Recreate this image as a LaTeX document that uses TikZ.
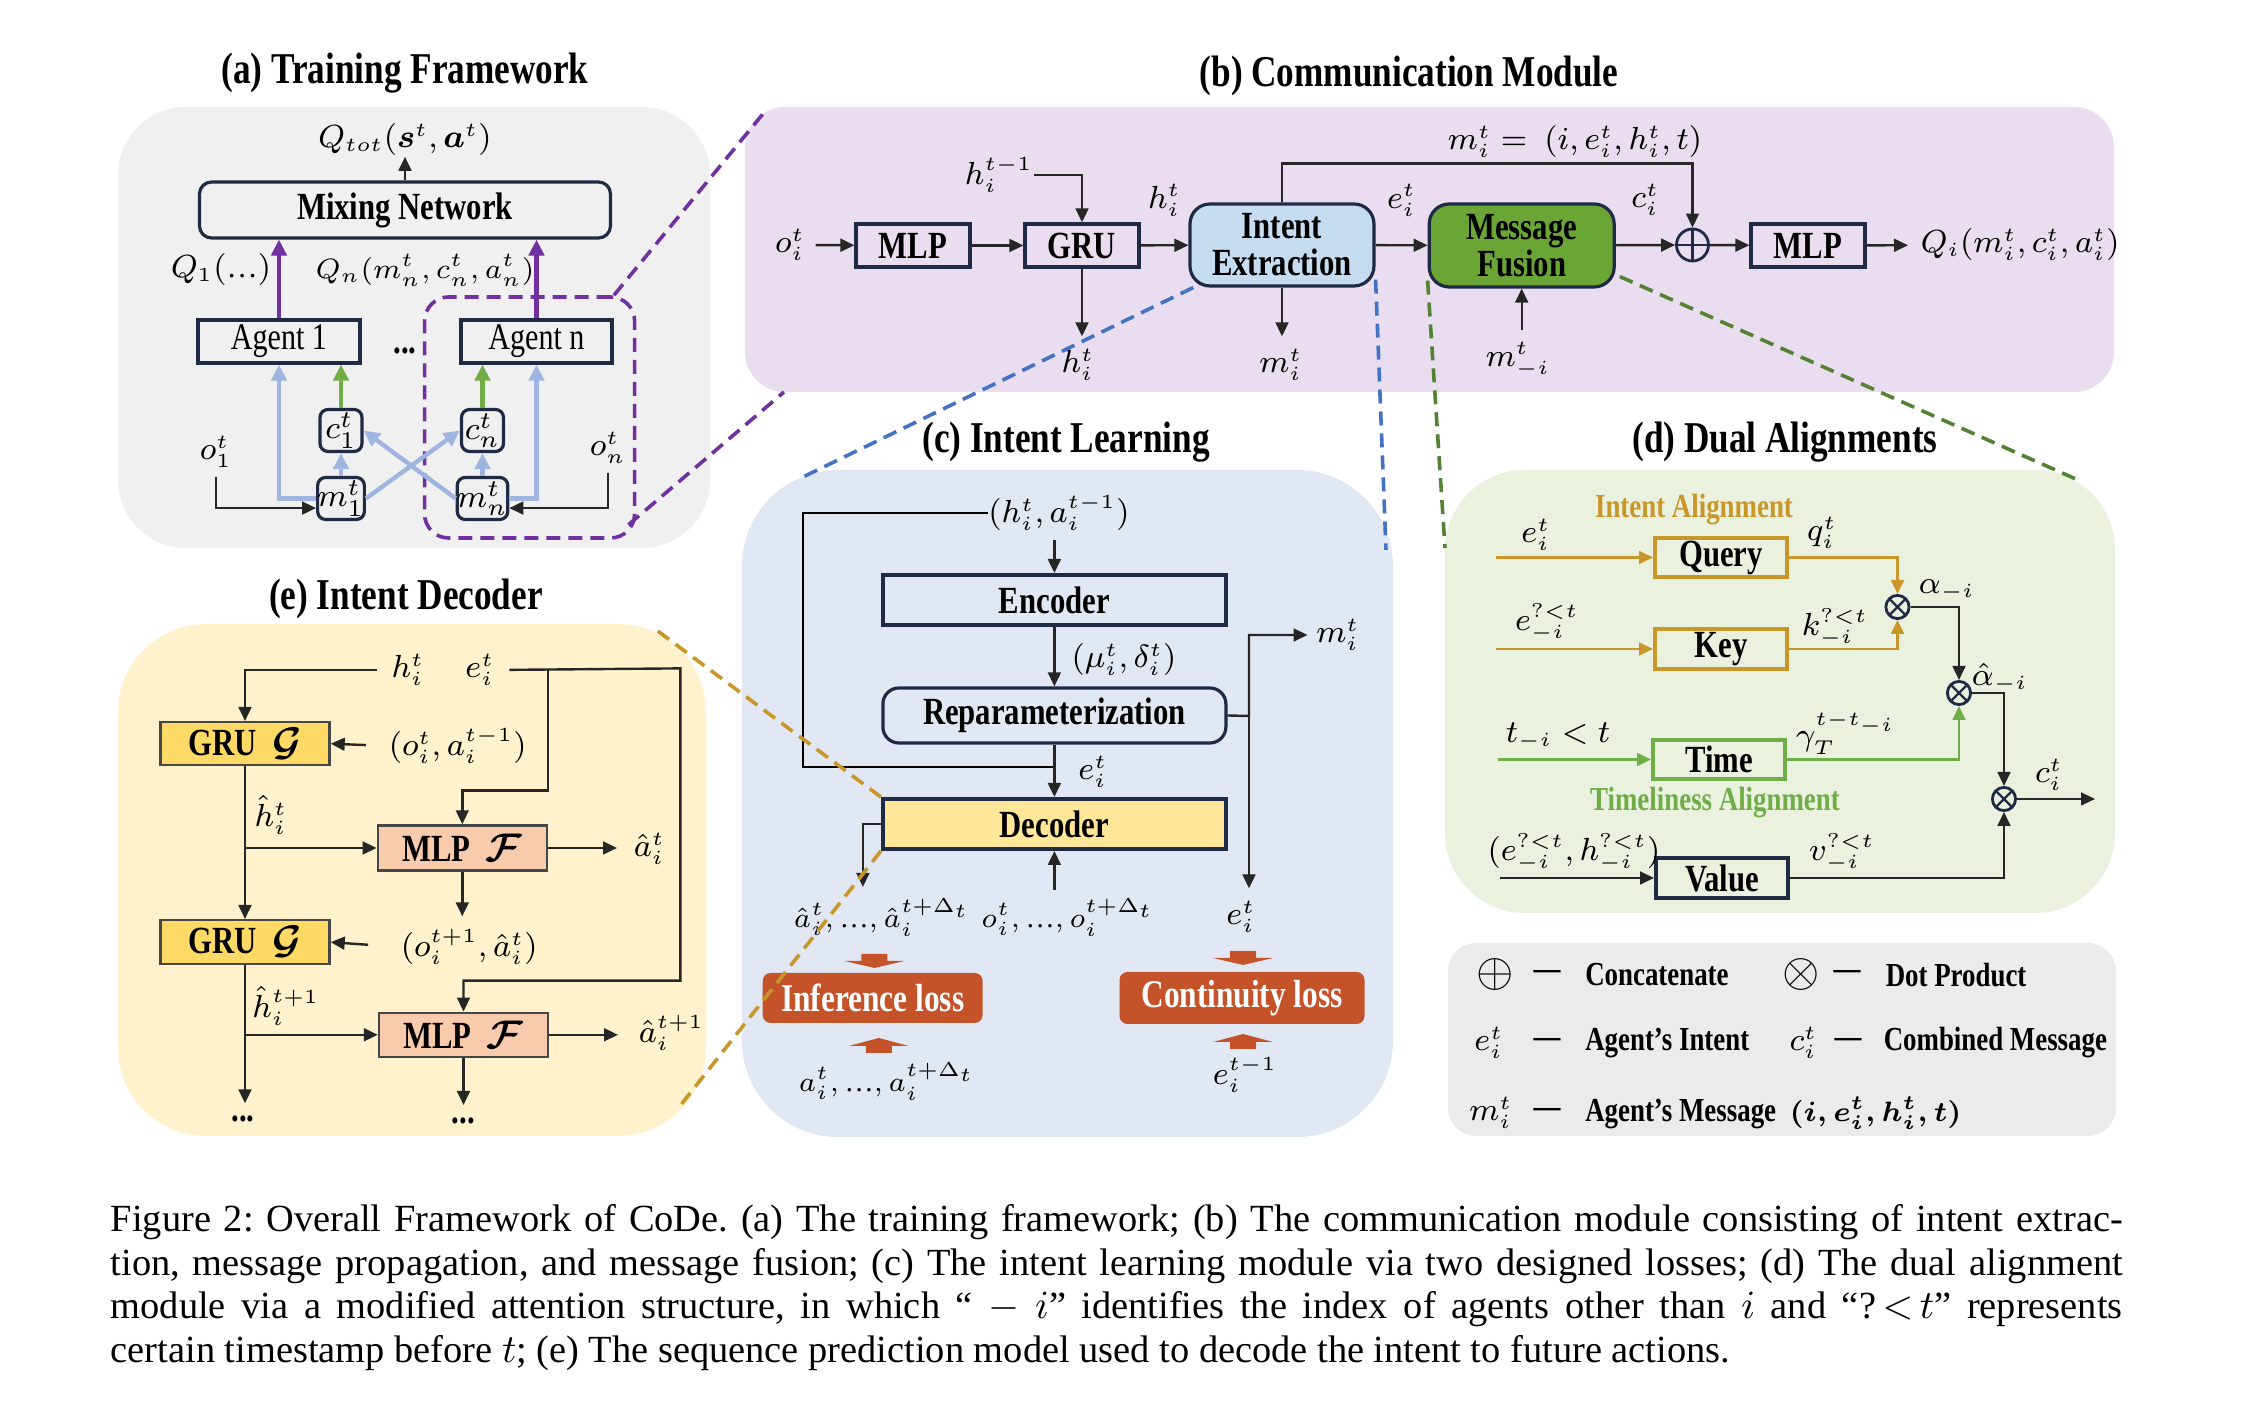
\documentclass[tikz,border=0pt]{standalone}
\usepackage{amsmath,amssymb}
\usepackage{fontspec}
\setmainfont{Liberation Serif}
\newfontfamily\figfont[FakeStretch=0.8,Ligatures=TeX]{Liberation Serif}
\usetikzlibrary{arrows.meta,positioning}
\definecolor{ink}{HTML}{262626}
\definecolor{navy}{HTML}{1F2B45}
\definecolor{panA}{HTML}{F0F0F0}
\definecolor{panB}{HTML}{E9DDEF}
\definecolor{panC}{HTML}{E1E8F4}
\definecolor{panD}{HTML}{EAF1DE}
\definecolor{panE}{HTML}{FFF2CC}
\definecolor{legc}{HTML}{EBEBEB}
\definecolor{intc}{HTML}{C6DDF1}
\definecolor{fusc}{HTML}{6AA536}
\definecolor{decc}{HTML}{FFE699}
\definecolor{gruc}{HTML}{FFD966}
\definecolor{mlpc}{HTML}{F8CBAD}
\definecolor{lossc}{HTML}{C4532A}
\definecolor{goldc}{HTML}{C9962A}
\definecolor{timec}{HTML}{70AD47}
\definecolor{purc}{HTML}{7030A0}
\definecolor{sky}{HTML}{9FB5DF}
\definecolor{dblue}{HTML}{4472C4}
\definecolor{dgreen}{HTML}{548235}
\newcommand\lossdn[2]{\fill[lossc] (#1-13,#2) -- (#1+13,#2) -- (#1+13,#2+7) -- (#1+30,#2+7) -- (#1,#2+14) -- (#1-30,#2+7) -- (#1-13,#2+7) -- cycle;}
\newcommand\lossup[2]{\fill[lossc] (#1,#2) -- (#1+30,#2+8) -- (#1+13,#2+8) -- (#1+13,#2+15) -- (#1-13,#2+15) -- (#1-13,#2+8) -- (#1-30,#2+8) -- cycle;}
\tikzset{
  sz/.style 2 args={minimum width=#1*0.25pt,minimum height=#2*0.25pt},
  blk/.style={draw=navy,line width=0.8pt,inner sep=0pt,align=center,font=\figfont\bfseries\fontsize{9.6}{9.2}\selectfont},
  eblk/.style={blk,draw=ink!85,line width=0.6pt},
  agent/.style={draw=navy,line width=0.8pt,inner sep=0pt,font=\figfont\fontsize{9.4}{11}\selectfont},
  sbox/.style={draw=navy,line width=0.8pt,rounded corners=2pt,inner sep=0pt,sz={42}{42},font=\fontsize{8}{10}\selectfont},
  lbl/.style={inner sep=0pt,font=\fontsize{7.8}{9}\selectfont},
  seq/.style={inner sep=0pt,font=\fontsize{7.3}{9}\selectfont},
  ttl/.style={inner sep=0pt,anchor=base,font=\figfont\bfseries\fontsize{11}{13}\selectfont},
  atext/.style={inner sep=0pt,font=\figfont\bfseries\fontsize{8.4}{10}\selectfont},
  loss/.style={fill=lossc,rounded corners=2pt,inner sep=0pt,text=white,font=\figfont\bfseries\fontsize{9.8}{11}\selectfont},
  arr/.style={draw=ink,line width=0.6pt,-{Triangle[length=3.5pt,width=3.2pt]}},
  fatarr/.style={line width=1.1pt,-{Triangle[length=4pt,width=3.8pt]}},
  link/.style={line width=0.9pt,dash pattern=on 3.5pt off 2pt},
  dotp/.style={circle,draw=navy,line width=0.7pt,minimum size=5.8pt,inner sep=0pt,path picture={\draw[navy,line width=0.6pt] (path picture bounding box.north west) -- (path picture bounding box.south east) (path picture bounding box.south west) -- (path picture bounding box.north east);}},
  catp/.style={circle,draw=navy,line width=0.7pt,minimum size=8pt,inner sep=0pt,path picture={\draw[navy,line width=0.6pt] (path picture bounding box.north) -- (path picture bounding box.south) (path picture bounding box.west) -- (path picture bounding box.east);}}
}
\begin{document}
\begin{tikzpicture}[x=0.25pt,y=-0.25pt]
    \path[use as bounding box,fill=white] (0,0) rectangle (2264,1408);
    \fill[panA,rounded corners=17pt] (118,107) rectangle (710,548);
    \fill[panB,rounded corners=10pt] (745,107) rectangle (2114,392);
    \fill[panC,rounded corners=24pt] (742,470) rectangle (1393,1137);
    \fill[panD,rounded corners=20pt] (1445,470) rectangle (2115,913);
    \fill[legc,rounded corners=7pt] (1448,943) rectangle (2116,1136);
    \fill[panE,rounded corners=22pt] (118,624) rectangle (706,1136);

    \node[ttl] (ttlA) at (405,84) {(a) Training Framework};
    \node[lbl] (qtot) at (405,140) {$Q_{tot}(\boldsymbol{s}^t,\boldsymbol{a}^t)$};
    \node[blk,rounded corners=3pt,sz={411}{56}] (mix) at (405,210) {Mixing Network};
    \node[lbl] (q1) at (221,270) {$Q_1(\text{…})$};
    \node[seq] (qn) at (425,270) {$Q_n(m_n^t,c_n^t,a_n^t)$};
    \node[agent,sz={162}{43}] (ag1) at (279,341.5) {Agent 1};
    \node[agent,sz={151}{43}] (agn) at (536.5,341.5) {Agent n};
    \node[atext,font=\figfont\bfseries\fontsize{9.6}{11}\selectfont,anchor=base] (dotA) at (405,354) {...};
    \node[sbox] (c1) at (341,430.5) {$c_1^t$};
    \node[sbox] (cn) at (482.5,430.5) {$c_n^t$};
    \node[sbox] (m1) at (341,498.5) {$m_1^t$};
    \node[sbox] (mn) at (482.5,498.5) {$m_n^t$};
    \node[lbl] (o1) at (216,452) {$o_1^t$};
    \node[lbl] (on) at (608,448) {$o_n^t$};
    \node[draw=purc,link,rounded corners=6pt,sz={210}{241}] (grp) at (529.6,417.5) {};
    \draw[arr] (mix) -- (qtot);
    \draw[fatarr,purc] (ag1) -- (ag1 |- mix.south);
    \draw[fatarr,purc] (agn) -- (agn |- mix.south);
    \draw[fatarr,timec] (c1) -- (c1 |- ag1.south);
    \draw[fatarr,timec] (cn) -- (cn |- agn.south);
    \draw[fatarr,sky] (m1) -- (c1);
    \draw[fatarr,sky] (mn) -- (cn);
    \draw[fatarr,sky] (m1.east) -- (cn.west);
    \draw[fatarr,sky] (mn.west) -- (c1.east);
    \draw[fatarr,sky] (m1.west) -| (ag1.south);
    \draw[fatarr,sky] (mn.east) -| (agn.south);
    \draw[arr,shorten <=2pt] (o1) |- ([yshift=-2.4pt]m1.west);
    \draw[arr,shorten <=2pt] (on) |- ([yshift=-2.4pt]mn.east);

    \node[ttl] (ttlB) at (1409,87) {(b) Communication Module};
    \node[lbl] (oi) at (790,245) {$o_i^t$};
    \node[blk,sz={114}{43}] (mlp1) at (913,245.5) {MLP};
    \node[blk,sz={114}{43}] (gru) at (1082,245.5) {GRU};
    \node[blk,fill=intc,rounded corners=5pt,sz={184}{82}] (ext) at (1282,245) {Intent\\Extraction};
    \node[blk,fill=fusc,rounded corners=5pt,sz={185}{83}] (fus) at (1521.7,245.5) {Message\\Fusion};
    \node[catp] (cat) at (1692.5,245) {};
    \node[blk,sz={114}{43}] (mlp2) at (1808,245.5) {MLP};
    \node[lbl,anchor=west] (qi) at (1920,245) {$Q_i(m_i^t,c_i^t,a_i^t)$};
    \node[lbl] (hprev) at (999,175) {$h_i^{t-1}$};
    \node[lbl] (hout) at (1078,365) {$h_i^t$};
    \node[lbl] (mout) at (1281,365) {$m_i^t$};
    \node[lbl] (mneg) at (1518,360) {$m_{-i}^t$};
    \node[lbl] (mdef) at (1575,142) {$m_i^t=\ (i,e_i^t,h_i^t,t)$};
    \draw[arr,shorten <=2.5pt] (oi) -- (mlp1);
    \draw[arr] (mlp1) -- (gru);
    \draw[arr] (gru) -- (ext) node[lbl,midway,above=7pt] {$h_i^t$};
    \draw[arr] (ext) -- (fus) node[lbl,midway,above=7pt] {$e_i^t$};
    \draw[arr] (fus) -- (cat) node[lbl,midway,above=7pt] {$c_i^t$};
    \draw[arr] (cat) -- (mlp2);
    \draw[arr,shorten >=3pt] (mlp2) -- (qi);
    \draw[arr] (hprev.east) -| (gru.north);
    \draw[arr,shorten >=3pt] (gru) -- (gru.south |- hout.north);
    \draw[arr,shorten >=3pt] (ext) -- (ext.south |- mout.north);
    \draw[arr,shorten <=3pt] (fus.south |- mneg.north) -- (fus.south);
    \draw[arr] (ext.north) -- ++(0,-39) -| (cat.north);

    \node[ttl] (ttlC) at (1066,453) {(c) Intent Learning};
    \node[lbl] (ha) at (1059,513) {$(h_i^t,a_i^{t-1})$};
    \node[blk,line width=1pt,sz={343}{50}] (enc) at (1054.4,600) {Encoder};
    \node[blk,rounded corners=4pt,sz={343}{55}] (rep) at (1054.4,715.5) {Reparameterization};
    \node[blk,fill=decc,line width=1pt,sz={343}{50}] (dec) at (1054.4,824) {Decoder};
    \node[lbl] (mu) at (1124,660) {$(\mu_i^t,\delta_i^t)$};
    \node[lbl] (erep) at (1093,772) {$e_i^t$};
    \node[lbl] (mc) at (1338,635) {$m_i^t$};
    \node[lbl] (ec) at (1241,917) {$e_i^t$};
    \node[seq] (ahat) at (882,918) {$\hat a_i^t,\text{…},\hat a_i^{t+\Delta_t}$};
    \node[seq] (oseq) at (1068,918) {$o_i^t,\text{…},o_i^{t+\Delta_t}$};
    \node[loss,sz={220}{50}] (infl) at (872.7,998) {Inference loss};
    \node[loss,sz={245}{52}] (conl) at (1242,998) {Continuity loss};
    \node[seq] (aseq) at (887,1082) {$a_i^t,\text{…},a_i^{t+\Delta_t}$};
    \node[lbl] (eprev) at (1245,1075) {$e_i^{t-1}$};
    \coordinate (lp) at (803,767);
    \coordinate (rj) at (1249,716);
    \draw[arr,shorten <=2pt] (enc.north |- ha.south) -- (enc.north);
    \draw (ha.west) -| (lp) -- (lp -| dec.north);
    \draw[arr] (enc) -- (rep);
    \draw[arr] (rep) -- (dec);
    \draw[arr,shorten >=2pt] (rep.east) -- (rj) |- (mc.west);
    \draw[arr,shorten >=3pt] (rj) -- (rj |- ec.north);
    \draw[arr] (dec.west) -- ++(-18,0) -- ++(0,63);
    \draw[arr,shorten <=2pt] (oseq.north -| dec.south) -- (dec.south);
    \lossdn{874.4}{954}
    \lossdn{1243}{951}
    \lossup{878.8}{1038}
    \lossup{1243}{1034}

    \node[ttl] (ttlD) at (1785,453) {(d) Dual Alignments};
    \node[atext,text=goldc] (ialign) at (1694,510) {Intent Alignment};
    \node[atext,text=timec] (talign) at (1715,803) {Timeliness Alignment};
    \node[blk,draw=goldc,line width=1pt,sz={132}{39}] (qry) at (1721,557.5) {Query};
    \node[blk,draw=goldc,line width=1pt,sz={132}{40}] (key) at (1721,649) {Key};
    \node[blk,draw=timec,line width=1pt,sz={132}{39}] (tim) at (1719,759.5) {Time};
    \node[blk,line width=1pt,sz={132}{40}] (val) at (1722,878) {Value};
    \node[dotp] (d1) at (1897.5,607) {};
    \node[dotp] (d2) at (1959,693) {};
    \node[dotp] (d3) at (2004,799) {};
    \node[lbl] (ei) at (1536,535) {$e_i^t$};
    \node[lbl] (eneg) at (1547,623) {$e_{-i}^{?<t}$};
    \node[lbl] (tneg) at (1558,736) {$t_{-i}<t$};
    \node[lbl] (eh) at (1574,853) {$(e_{-i}^{?<t},h_{-i}^{?<t})$};
    \node[lbl] (qq) at (1822,533) {$q_i^t$};
    \node[lbl] (kk) at (1835,628) {$k_{-i}^{?<t}$};
    \node[lbl] (al) at (1947,590) {$\alpha_{-i}$};
    \node[lbl] (alh) at (2000,678) {$\hat\alpha_{-i}$};
    \node[lbl] (gam) at (1846,733) {$\gamma_T^{t-t_{-i}}$};
    \node[lbl] (vv) at (1842,853) {$v_{-i}^{?<t}$};
    \node[lbl] (cout) at (2049,775) {$c_i^t$};
    \draw[arr,draw=goldc] (qry.west) ++(-157,0) -- (qry.west);
    \draw[arr,draw=goldc] (key.west) ++(-157,0) -- (key.west);
    \draw[arr,draw=timec] (tim.west) ++(-153,0) -- (tim.west);
    \draw[arr] (val.west) ++(-154,0) -- (val.west);
    \draw[arr,draw=goldc] (qry.east) -| (d1.north);
    \draw[arr,draw=goldc] (key.east) -| (d1.south);
    \draw[arr] (d1.east) -| (d2.north);
    \draw[arr,draw=timec] (tim.east) -| (d2.south);
    \draw[arr] (d2.east) -| (d3.north);
    \draw[arr] (val.east) -| (d3.south);
    \draw[arr] (d3.east) -- ++(78,0);

    \node[lbl,font=\fontsize{12}{12}\selectfont] (lcat) at (1495,975) {$\oplus$};
    \node[atext] (ld1) at (1547,975) {---};
    \node[atext,anchor=west] (lt1) at (1584.5,975) {Concatenate};
    \node[lbl,font=\fontsize{12}{12}\selectfont] (ldot) at (1801,975) {$\otimes$};
    \node[atext] (ld2) at (1847,975) {---};
    \node[atext,anchor=west] (lt2) at (1885,975) {Dot Product};
    \node[lbl] (le) at (1489,1043) {$e_i^t$};
    \node[atext] (ld3) at (1547,1043) {---};
    \node[atext,anchor=west] (lt3) at (1584.5,1043) {Agent’s Intent};
    \node[lbl] (lc) at (1803.5,1043) {$c_i^t$};
    \node[atext] (ld4) at (1848,1043) {---};
    \node[atext,anchor=west] (lt4) at (1883,1043) {Combined Message};
    \node[lbl] (lm) at (1491,1113) {$m_i^t$};
    \node[atext] (ld5) at (1547,1113) {---};
    \node[atext,anchor=west] (lt5) at (1584.5,1113) {Agent’s Message\ \ {\fontsize{7.3}{9}\selectfont$\boldsymbol{(i,e_i^t,h_i^t,t)}$}};

    \node[ttl] (ttlE) at (406,610) {(e) Intent Decoder};
    \node[lbl] (he) at (408,670) {$h_i^t$};
    \node[lbl] (ee) at (480,670) {$e_i^t$};
    \node[eblk,fill=gruc,sz={169}{43}] (g1) at (245,743.7) {GRU\ \ $\boldsymbol{\mathcal{G}}$};
    \node[eblk,fill=mlpc,sz={169}{45}] (f1) at (462.3,848) {MLP\ \ $\boldsymbol{\mathcal{F}}$};
    \node[eblk,fill=gruc,sz={169}{44}] (g2) at (245,942.2) {GRU\ \ $\boldsymbol{\mathcal{G}}$};
    \node[eblk,fill=mlpc,sz={169}{44}] (f2) at (463.5,1034.8) {MLP\ \ $\boldsymbol{\mathcal{F}}$};
    \node[lbl,anchor=west] (oa1) at (388,746) {$(o_i^t,a_i^{t-1})$};
    \node[lbl] (hh1) at (271,815) {$\hat h_i^t$};
    \node[lbl,anchor=west] (ah1) at (633,848.6) {$\hat a_i^t$};
    \node[lbl,anchor=west] (oa2) at (400,947) {$(o_i^{t+1},\hat a_i^t)$};
    \node[lbl] (hh2) at (286,1006) {$\hat h_i^{t+1}$};
    \node[lbl,anchor=west] (ah2) at (638,1033) {$\hat a_i^{t+1}$};
    \node[atext,font=\figfont\bfseries\fontsize{9.6}{11}\selectfont,anchor=base] (dotE1) at (243,1122) {...};
    \node[atext,font=\figfont\bfseries\fontsize{9.6}{11}\selectfont,anchor=base] (dotE2) at (463.3,1124) {...};
    \coordinate (er) at (680.4,668.4);
    \draw[arr,shorten <=3.5pt] (he.west) -| (g1.north);
    \draw[arr,shorten <=5.5pt] (oa1.west) -- (g1.east);
    \draw[arr,shorten <=3.5pt] (ee.east) -- (er) |- ([yshift=7.75pt]f2.north) -- (f2.north);
    \draw[arr] (ee.east -| f1.east) |- ([yshift=8.4pt]f1.north) -- (f1.north);
    \draw[arr] (g1) -- (g2);
    \draw[arr] (g1.south |- f1.west) -- (f1.west);
    \draw[arr,shorten >=4pt] (f1) -- (ah1.west |- f1.east);
    \draw[arr,shorten >=3pt] (f1) -- (f1.south |- oa2.north);
    \draw[arr,shorten <=8pt] (oa2.west) -- (g2.east);
    \draw[arr] (g2.south) -- ++(0,138);
    \draw[arr] (g2.south |- f2.west) -- (f2.west);
    \draw[arr,shorten >=5pt] (f2) -- (ah2.west |- f2.east);
    \draw[arr] (f2.south) -- ++(0,47);

    \coordinate (pb1) at (767,109);
    \coordinate (pb2) at (784,392);
    \coordinate (pc1) at (803,477);
    \coordinate (pc2) at (1386,550);
    \coordinate (pd1) at (1445,548);
    \coordinate (pd2) at (2078,480);
    \coordinate (pe1) at (655,629);
    \coordinate (pe2) at (680,1106);
    \draw[link,purc] ([xshift=-5.6pt]grp.north east) -- (pb1);
    \draw[link,purc] ([shift={(-2pt,3.75pt)}]grp.south east) -- (pb2);
    \draw[link,dblue] ([xshift=1.2pt]ext.south west) -- (pc1);
    \draw[link,dblue] ([yshift=2pt]ext.south east) -- (pc2);
    \draw[link,dgreen] ([yshift=2pt]fus.south west) -- (pd1);
    \draw[link,dgreen] ([shift={(1pt,3pt)}]fus.south east) -- (pd2);
    \draw[link,goldc] (dec.north west) -- (pe1);
    \draw[link,goldc] (dec.south west) -- (pe2);

    \node[anchor=base west,inner sep=0pt,text width=503pt,align=justify,font=\fontsize{9.6}{10.9}\selectfont\frenchspacing] (cap) at (110,1231.7) {\hyphenpenalty=10000 \tolerance=9999 \relax Figure 2: Overall Framework of CoDe. (a) The training framework; (b) The communication module consisting of intent extrac-\linebreak tion, message propagation, and message fusion; (c) The intent learning module via two designed losses; (d) The dual alignment\linebreak module via a modified attention structure, in which `` $-$ $i$'' identifies the index of agents other than $i$ and ``?\,$<$\,$t$'' represents\linebreak certain timestamp before $t$; (e) The sequence prediction model used to decode the intent to future actions.};
\end{tikzpicture}
\end{document}
